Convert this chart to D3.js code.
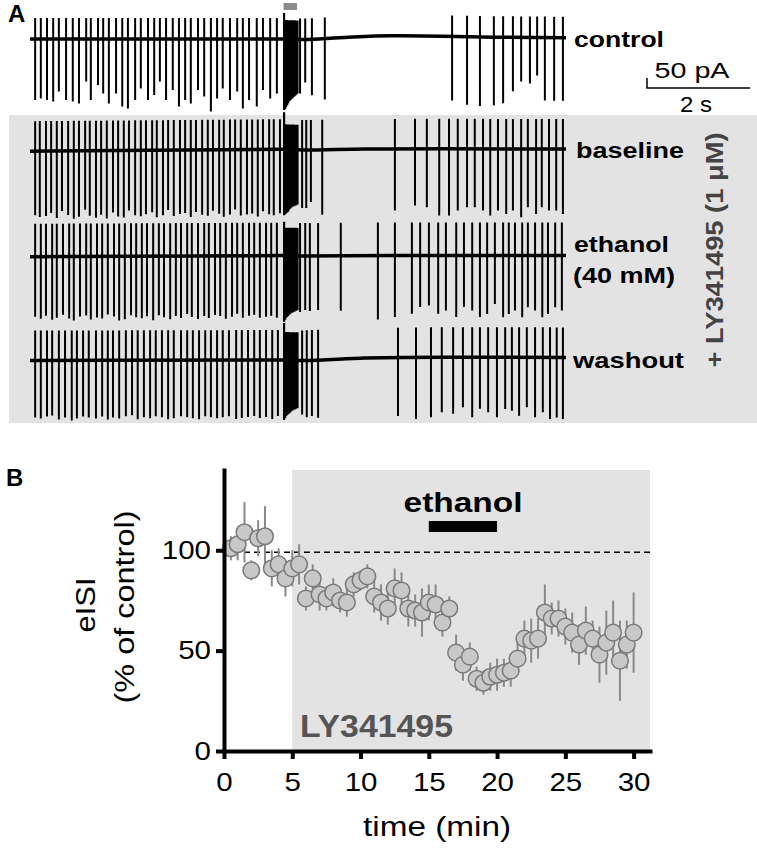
<!DOCTYPE html>
<html>
<head>
<meta charset="utf-8">
<script src="https://cdn.jsdelivr.net/npm/d3@7"></script>
<style>
  body { margin: 0; background: #fff; }
  svg { display: block; }
  text { font-family: "Liberation Sans", Arial, sans-serif; }
</style>
</head>
<body>
<script>
// ---------- panel A : cell-attached traces (time in s, current in pA) ----------
const traceNames = ['control', 'baseline', 'ethanol', 'washout'];

const controlSpikes = [0.10,0.21,0.33,0.45,0.56,0.70,0.83,0.95,1.09,1.18,1.32,1.42,1.53,1.67,1.79,1.90,2.04,2.15,2.29,2.41,
  2.52,2.64,2.77,2.89,3.01,3.12,3.26,3.38,3.51,3.63,3.74,3.88,4.02,4.13,4.25,4.40,4.52,4.66,4.79,
  5.24,5.34,5.47,5.72,
  8.19,8.48,8.73,9.00,9.18,9.37,9.53,9.70,9.84,9.99,10.17,10.34];
const controlDown = [305,297,305,313,263,305,313,322,213,305,230,272,322,272,338,347,305,247,305,280,
  213,305,255,338,305,322,255,288,363,297,247,305,263,347,305,338,255,297,272,
  270,215,280,305,
  320,340,345,340,330,270,220,230,190,315,315,315];

const baselineSpikes = [0.10,0.19,0.31,0.41,0.52,0.62,0.74,0.85,0.95,1.07,1.16,1.28,1.38,1.49,1.61,1.71,1.82,1.92,2.04,2.15,
  2.25,2.37,2.46,2.58,2.68,2.79,2.91,3.01,3.12,3.22,3.34,3.45,3.55,3.67,3.76,3.88,3.98,4.09,4.21,4.31,
  4.42,4.52,4.64,4.73,4.85,
  5.28,5.36,5.45,5.67,
  7.08,7.47,7.70,7.94,8.13,8.30,8.48,8.63,8.79,8.93,9.08,9.24,9.37,9.53,9.66,9.82,9.93,10.07,10.21,10.34];
const baselineDown = [320,330,325,310,335,300,320,340,330,295,325,335,320,340,310,330,335,300,325,330,
  320,310,335,325,300,330,320,315,335,310,325,330,305,320,335,325,300,330,325,320,
  335,310,325,330,320,
  290,290,260,325,
  308,283,292,333,333,308,292,292,308,333,308,325,308,342,292,325,292,308,308,325];

const ethanolSpikes = [0.10,0.21,0.31,0.43,0.52,0.64,0.76,0.85,0.97,1.09,1.18,1.30,1.40,1.51,1.63,1.73,1.84,1.96,2.06,2.17,
  2.27,2.39,2.50,2.60,2.72,2.83,2.93,3.05,3.14,3.26,3.38,3.47,3.59,3.69,3.80,3.92,4.02,4.13,4.25,4.35,
  4.46,4.58,4.68,4.79,
  5.24,5.34,5.43,5.59,6.03,6.75,
  7.08,7.41,7.57,7.74,7.92,8.07,8.27,8.42,8.58,8.73,8.87,9.02,9.18,9.29,9.41,9.55,9.66,9.80,9.94,10.05,10.19,10.32];
const ethanolDown = [300,310,295,315,305,290,310,320,300,295,315,305,310,290,300,320,315,295,305,310,
  300,320,295,305,315,300,310,290,305,315,300,310,295,300,315,305,290,310,300,295,
  310,305,300,310,
  280,270,275,270,275,320,
  308,292,258,250,292,275,308,258,275,308,292,242,308,292,275,308,258,275,308,292,258,275];

const washoutSpikes = [0.10,0.21,0.33,0.43,0.56,0.68,0.81,0.91,1.03,1.14,1.28,1.40,1.51,1.61,1.73,1.86,1.98,2.09,2.21,2.33,
  2.44,2.56,2.68,2.79,2.93,3.05,3.16,3.28,3.40,3.51,3.63,3.74,3.86,4.00,4.11,4.23,4.35,4.46,4.58,4.70,
  4.81,
  5.28,5.37,5.47,5.59,
  7.14,7.49,7.78,7.99,8.21,8.40,8.58,8.73,8.89,9.06,9.22,9.35,9.49,9.64,9.80,9.95,10.09,10.22,10.34];
const washoutDown = [285,290,280,275,295,285,300,290,280,285,290,280,295,285,290,280,275,295,285,290,
  280,285,295,290,280,285,290,295,280,285,290,285,280,295,290,285,280,290,285,295,
  280,
  270,285,280,290,
  292,308,300,275,283,250,300,258,275,300,258,267,292,250,300,275,308,300,308];

const spikeUp = [105, 150, 165, 150];

// stimulus-evoked burst
const burstTimes = [4.93,4.95,4.97,4.99,5.01,5.03,5.05,5.07,5.09,5.11,5.13,5.15,5.17,5.19];
const controlBurst  = [355,350,340,330,320,310,305,300,295,290,285,280,275,270];
const baselineBurst = [330,325,320,315,310,300,295,290,285,285,280,280,275,275];
const ethanolBurst  = [330,320,310,305,300,295,290,285,285,280,280,275,275,270];
const washoutBurst  = [300,290,280,275,270,265,260,255,250,250,245,245,240,240];
const burstPeak = [130, 185, 170, 185];
const burstUp   = [95, 125, 140, 140];
const stimWindow = [4.92, 5.18];

// slow holding-current drift [t, pA]
const controlDrift  = [[0,0],[4.9,0],[5.3,-3],[6,6],[7,16],[8,14],[9,9],[10.4,6]];
const baselineDrift = [[0,-6],[4.9,4],[5.3,0],[6.5,5],[8,6],[10.4,5]];
const ethanolDrift  = [[0,-4],[4.9,2],[5.3,0],[7,3],[10.4,2]];
const washoutDrift  = [[0,-3],[4.9,0],[5.3,-2],[6.5,10],[8,14],[10.4,13]];

const scaleBarTime = 2;     // s
const scaleBarCurrent = 50; // pA

// ---------- panel B : eISI time course ----------
const timeMin = [0.5,1,1.5,2,2.5,3,3.5,4,4.5,5,5.5,6,6.5,7,7.5,8,8.5,9,9.5,10,
  10.5,11,11.5,12,12.5,13,13.5,14,14.5,15,15.5,16,16.5,17,17.5,18,18.5,19,19.5,20,
  20.5,21,21.5,22,22.5,23,23.5,24,24.5,25,25.5,26,26.5,27,27.5,28,28.5,29,29.5,30];
const eisi = [101,103,109,90,106,107,91,93,86,91,93,76,86,78,76,79,75,74,83,85,
  87,77,74,71,81,80,71,70,69,74,73,64,71,49,43,47,36,34,37,38,
  39,40,46,56,55,56,69,66,66,62,59,53,60,56,48,54,59,45,53,59];
const sem = [6,8,15,5,9,15,9,8,9,9,10,6,7,8,6,7,6,7,6,5,
  6,8,9,8,10,9,9,8,12,9,10,7,6,9,8,7,6,6,7,8,
  7,8,8,9,11,10,14,8,9,9,10,10,12,9,14,16,16,20,12,20];
const controlLevel = 99;
const lyWindow = [5, 31.2];
const ethanolWindow = [15, 20];
const yTicks = [0, 50, 100];
const xTicks = [0, 5, 10, 15, 20, 25, 30];

// ---------- drawing ----------
const W = 757, H = 850;
const svg = d3.select('body').append('svg').attr('width', W).attr('height', H);

function label(x, y, s, o = {}) {
  const t = svg.append('text')
    .attr('transform', `translate(${x},${y}) rotate(${o.rotate || 0})`)
    .attr('font-size', o.size || 22)
    .attr('font-weight', o.weight || 'bold')
    .attr('text-anchor', o.anchor || 'start')
    .attr('fill', o.fill || '#000')
    .text(s);
  if (o.len) t.attr('textLength', o.len).attr('lengthAdjust', 'spacingAndGlyphs');
  return t;
}

// panel A
svg.append('rect').attr('x', 9).attr('y', 115).attr('width', 748).attr('height', 308).attr('fill', '#e3e3e3');

const xA = d3.scaleLinear().domain([0, 10.4]).range([30, 566]);
const yA = d3.scaleLinear().domain([0, 50]).range([0, -10]);

const traces = [
  { spikes: controlSpikes, down: controlDown, burst: controlBurst, drift: controlDrift },
  { spikes: baselineSpikes, down: baselineDown, burst: baselineBurst, drift: baselineDrift },
  { spikes: ethanolSpikes, down: ethanolDown, burst: ethanolBurst, drift: ethanolDrift },
  { spikes: washoutSpikes, down: washoutDown, burst: washoutBurst, drift: washoutDrift }
];
const traceBaseY = [39, 150, 256, 360];

traces.forEach((tr, i) => {
  const g = svg.append('g').attr('transform', `translate(0,${traceBaseY[i]})`);
  const level = d3.scaleLinear().domain(tr.drift.map(d => d[0])).range(tr.drift.map(d => d[1])).clamp(true);

  g.append('path').datum(tr.drift)
    .attr('d', d3.line().x(d => xA(d[0])).y(d => yA(d[1])).curve(d3.curveMonotoneX))
    .attr('fill', 'none').attr('stroke', '#000').attr('stroke-width', 3.5);

  const sp = tr.spikes.map((t, k) =>
    `M${xA(t)},${yA(level(t) + spikeUp[i])}V${yA(level(t) - tr.down[k])}`).join('');
  g.append('path').attr('d', sp).attr('stroke', '#000').attr('stroke-width', 2).attr('fill', 'none');

  const bp = burstTimes.map((t, k) =>
    `M${xA(t)},${yA(level(t) + (k === 0 ? burstPeak[i] : burstUp[i]))}V${yA(level(t) - tr.burst[k])}`).join('');
  g.append('path').attr('d', bp).attr('stroke', '#000').attr('stroke-width', 2.2).attr('fill', 'none');
});

// stimulus marker
svg.append('rect').attr('x', xA(stimWindow[0])).attr('y', 3)
  .attr('width', xA(stimWindow[1]) - xA(stimWindow[0])).attr('height', 7).attr('fill', '#8c8c8c');

// scale bar
const sb = svg.append('g').attr('transform', 'translate(647,88)');
sb.append('path')
  .attr('d', `M0,${yA(scaleBarCurrent)}V0H${xA(scaleBarTime) - xA(0)}`)
  .attr('fill', 'none').attr('stroke', '#000').attr('stroke-width', 1.5);
label(692, 78, `${scaleBarCurrent} pA`, { weight: 'normal', size: 22, anchor: 'middle', len: 75 });
label(696, 112, `${scaleBarTime} s`, { weight: 'normal', size: 22, anchor: 'middle', len: 32 });

label(8, 22, 'A', { size: 24 });
label(574, 47, traceNames[0], { len: 90 });
label(576, 158, traceNames[1], { len: 108 });
label(574, 252, traceNames[2], { len: 95 });
label(573, 283, '(40 mM)', { len: 102 });
label(573, 368, traceNames[3], { len: 111 });
label(723, 250, '+ LY341495 (1 μM)', { rotate: -90, anchor: 'middle', len: 235, size: 24, fill: '#444' });

// panel B
const xB = d3.scaleLinear().domain([0, 31.2]).range([224, 650]);
const yB = d3.scaleLinear().domain([0, 140]).range([751, 470]);

svg.append('rect')
  .attr('x', xB(lyWindow[0])).attr('y', yB(140))
  .attr('width', xB(lyWindow[1]) - xB(lyWindow[0])).attr('height', yB(0) - yB(140))
  .attr('fill', '#e3e3e3');

svg.append('line')
  .attr('x1', xB(0)).attr('x2', xB(31.2)).attr('y1', yB(controlLevel)).attr('y2', yB(controlLevel))
  .attr('stroke', '#000').attr('stroke-width', 1.5).attr('stroke-dasharray', '6,4');

const pts = svg.append('g');
timeMin.forEach((t, i) => {
  pts.append('line')
    .attr('x1', xB(t)).attr('x2', xB(t))
    .attr('y1', yB(eisi[i] - sem[i])).attr('y2', yB(eisi[i] + sem[i]))
    .attr('stroke', '#8a8a8a').attr('stroke-width', 2);
});
timeMin.forEach((t, i) => {
  pts.append('circle').attr('cx', xB(t)).attr('cy', yB(eisi[i])).attr('r', 8.3)
    .attr('fill', '#c8c8c8').attr('stroke', '#7a7a7a').attr('stroke-width', 1.5);
});

const gy = svg.append('g').attr('transform', `translate(${xB(0)},0)`)
  .call(d3.axisLeft(yB).tickValues(yTicks).tickSize(8).tickSizeOuter(0).tickPadding(5));
const gx = svg.append('g').attr('transform', `translate(0,${yB(0)})`)
  .call(d3.axisBottom(xB).tickValues(xTicks).tickSize(8).tickSizeOuter(0).tickPadding(14));
[gy, gx].forEach(g => {
  g.attr('font-size', 25).attr('font-family', '"Liberation Sans", Arial, sans-serif');
  g.select('.domain').attr('stroke-width', 4).attr('stroke-linecap', 'square');
  g.selectAll('.tick line').attr('stroke-width', 4);
  g.selectAll('.tick text').attr('fill', '#000').each(function () {
    const w = this.getComputedTextLength();
    d3.select(this).attr('textLength', w * 1.18).attr('lengthAdjust', 'spacingAndGlyphs');
  });
});

// ethanol bar
svg.append('rect').attr('x', xB(ethanolWindow[0])).attr('y', 521)
  .attr('width', xB(ethanolWindow[1]) - xB(ethanolWindow[0])).attr('height', 11).attr('fill', '#000');
label(463, 512, 'ethanol', { size: 27, anchor: 'middle', len: 119 });
label(300, 737, 'LY341495', { size: 31, len: 153, fill: '#555' });

label(6, 486, 'B', { size: 24 });
label(95, 605, 'eISI', { rotate: -90, anchor: 'middle', weight: 'normal', size: 27, len: 55 });
label(134, 607, '(% of control)', { rotate: -90, anchor: 'middle', weight: 'normal', size: 27, len: 193 });
label(437, 836, 'time (min)', { weight: 'normal', size: 27, anchor: 'middle', len: 148 });
</script>
</body>
</html>
